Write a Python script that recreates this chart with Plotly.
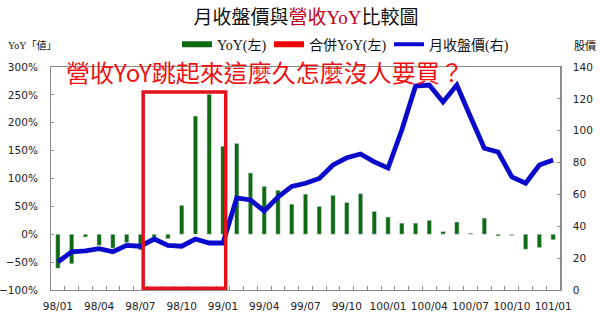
import plotly.graph_objects as go

months = [f"{y}/{m:02d}" for y in (98, 99, 100) for m in range(1, 13)] + ["101/01"]

yoy = [-61, -53, -5, -20, -25, -15, -28, -5, -8, 52, 212, 251, 158,
       163, 110, 86, 79, 54, 72, 50, 70, 57, 73, 41, 31, 20, 20, 25,
       5, 22, 2, 29, -3, -2, -27, -24, -10]

price = [17.6, 24, 24.5, 26, 24, 28, 27.5, 32, 28, 27.5, 32, 29.5, 29.5,
         57.8, 56.5, 49.6, 58.4, 65, 67, 70, 78.5, 83, 85.4, 80.4, 76.6,
         100.4, 128, 128.7, 118, 128.7, 108.6, 89, 86.6, 71, 67, 78.5, 81.6]

merged_yoy = []  # 合併YoY(左): no values shown

tick_text = [m if i % 3 == 0 else "" for i, m in enumerate(months)]

GREEN = "#0f6a12"
RED = "#ee1111"
BLUE = "#0a0acc"
AXIS = "#8c8c8c"
TICKFONT = dict(family="DejaVu Sans", size=10.5, color="#222")
LEGFONT = dict(family="Liberation Serif, Noto Sans CJK TC", size=14, color="#111")

fig = go.Figure()

fig.add_trace(go.Bar(x=months, y=yoy, marker_color=GREEN, width=0.32,
                     showlegend=False, name="YoY(左)"))
fig.add_trace(go.Scatter(x=months, y=price, yaxis="y2", mode="lines",
                         line=dict(color=BLUE, width=4.8), showlegend=False,
                         name="月收盤價(右)"))

# legend entries
fig.add_trace(go.Scatter(x=[None], y=[None], mode="lines", legend="legend",
                         line=dict(color=GREEN, width=6), name="YoY(左)"))
fig.add_trace(go.Scatter(x=[None], y=[None], mode="lines", legend="legend2",
                         line=dict(color="#f00000", width=6), name="合併YoY(左)"))
fig.add_trace(go.Scatter(x=[None], y=[None], mode="lines", legend="legend3",
                         line=dict(color=BLUE, width=4), name="月收盤價(右)"))


def leg(px):
    return dict(orientation="h", x=(px - 51) / 509, xanchor="left", y=1.1,
                yanchor="middle", font=LEGFONT, itemwidth=30,
                bgcolor="rgba(0,0,0,0)")


fig.update_layout(
    width=600, height=323,
    margin=dict(l=51, r=40, t=67, b=33, autoexpand=False),
    paper_bgcolor="white", plot_bgcolor="white",
    barmode="overlay",
    title=dict(text="月收盤價與<span style='color:#c0001a'>營收YoY</span>比較圖",
               font=dict(family="Liberation Serif, Noto Sans CJK TC", size=19, color="#111"),
               x=0.51, xanchor="center", y=0.947, yanchor="middle", yref="container"),
    legend=leg(177), legend2=leg(269), legend3=leg(389),
    xaxis=dict(type="category", categoryorder="array", categoryarray=months,
               tickmode="array", tickvals=months, ticktext=tick_text,
               tickson="boundaries", ticks="inside", ticklen=4, tickcolor=AXIS,
               tickangle=0, tickfont=TICKFONT, showgrid=False, automargin=False,
               showline=True, linecolor=AXIS, linewidth=1, mirror=True,
               range=[-0.5, len(months) - 0.5], ticklabelstandoff=6),
    yaxis=dict(range=[-100, 300], dtick=50, ticksuffix="%", ticks="inside",
               ticklen=3, tickcolor=AXIS, tickfont=TICKFONT, showgrid=False,
               zeroline=False, showline=True, linecolor=AXIS, linewidth=1,
               ticklabelstandoff=10, automargin=False),
    yaxis2=dict(range=[0, 140], dtick=20, overlaying="y", side="right",
                ticks="inside", ticklen=3, tickcolor=AXIS, tickfont=TICKFONT,
                showgrid=False, zeroline=False, showline=True, linecolor=AXIS,
                linewidth=1.5, ticklabelstandoff=9, automargin=False),
)

# highlight box
fig.add_shape(type="rect", xref="x", yref="y", x0=6.2, x1=12.2, y0=-97, y1=255,
              line=dict(color="#e3121c", width=3.5), fillcolor="rgba(0,0,0,0)")

fig.add_annotation(text="營收YoY跳起來這麼久怎麼沒人要買？", xref="paper", yref="paper",
                   x=(265 - 51) / 509, y=1 + (67 - 71) / 223, xanchor="center", yanchor="middle",
                   showarrow=False, font=dict(family="Noto Sans CJK TC", size=24, color=RED))
fig.add_annotation(text="YoY「値」", xref="paper", yref="paper",
                   x=(6 - 51) / 509, y=1 + (67 - 45) / 223, xanchor="left", yanchor="middle",
                   showarrow=False, font=dict(family="Liberation Serif, Noto Sans CJK TC", size=10, color="#111"))
fig.add_annotation(text="股價", xref="paper", yref="paper",
                   x=(572 - 51) / 509, y=1 + (67 - 45) / 223, xanchor="left", yanchor="middle",
                   showarrow=False, font=dict(family="Noto Sans CJK TC", size=11, color="#111"))

fig.write_html("out.html")
